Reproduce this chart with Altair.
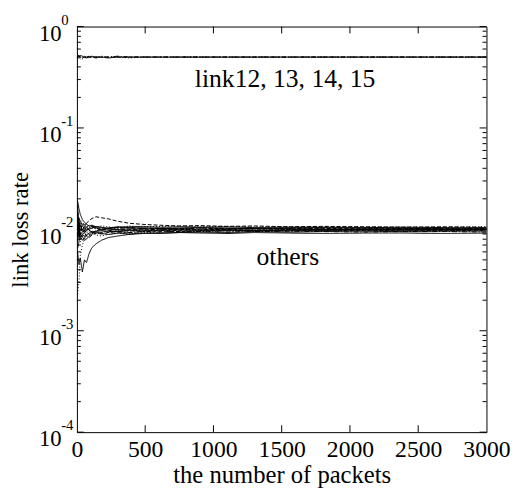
import altair as alt
import pandas as pd

# packet counts at which estimates are shown
X = [5, 15, 25, 40, 55, 70, 90, 110, 140, 180, 230, 300, 380, 480, 600,
     750, 900, 1100, 1300, 1550, 1800, 2100, 2400, 2700, 3000]

# links 12-15 (true loss ~0.5)
top_series = {
    "t1": [0.53, 0.51, 0.50, 0.49, 0.50, 0.51, 0.50, 0.50, 0.49, 0.50, 0.50, 0.50, 0.50,
           0.50, 0.50, 0.50, 0.50, 0.50, 0.50, 0.50, 0.50, 0.50, 0.50, 0.50, 0.50],
    "t2": [0.48, 0.50, 0.52, 0.51, 0.50, 0.49, 0.50, 0.51, 0.50, 0.50, 0.49, 0.50, 0.50,
           0.50, 0.50, 0.50, 0.50, 0.50, 0.50, 0.50, 0.50, 0.50, 0.50, 0.50, 0.50],
    "t3": [0.51, 0.49, 0.48, 0.50, 0.51, 0.50, 0.49, 0.50, 0.50, 0.51, 0.50, 0.50, 0.49,
           0.50, 0.50, 0.50, 0.50, 0.50, 0.50, 0.50, 0.50, 0.50, 0.50, 0.50, 0.50],
    "t4": [0.50, 0.52, 0.50, 0.48, 0.49, 0.50, 0.51, 0.50, 0.50, 0.50, 0.50, 0.51, 0.50,
           0.50, 0.50, 0.50, 0.50, 0.50, 0.50, 0.50, 0.50, 0.50, 0.50, 0.50, 0.50],
}
top_styles = ["dashed", "solid", "dotted", "dashdot"]

# other links (true loss ~0.01)
other_series = {
    "s1": [0.0060, 0.0045, 0.0052, 0.0038, 0.0050, 0.0047, 0.0058, 0.0066, 0.0072, 0.0078, 0.0083, 0.0086,
           0.0089, 0.0091, 0.0092, 0.0093, 0.0094, 0.0093, 0.0095, 0.0094, 0.0095, 0.0096, 0.0095, 0.0096, 0.0096],
    "s2": [0.0023, 0.0030, 0.0055, 0.0070, 0.0080, 0.0085, 0.0088, 0.0090, 0.0092, 0.0094, 0.0095, 0.0097,
           0.0096, 0.0098, 0.0097, 0.0099, 0.0098, 0.0097, 0.0098, 0.0099, 0.0098, 0.0099, 0.0098, 0.0099, 0.0098],
    "s3": [0.0190, 0.0160, 0.0140, 0.0125, 0.0118, 0.0112, 0.0108, 0.0110, 0.0106, 0.0104, 0.0103, 0.0105,
           0.0106, 0.0107, 0.0105, 0.0106, 0.0105, 0.0106, 0.0104, 0.0105, 0.0105, 0.0104, 0.0105, 0.0104, 0.0104],
    "s4": [0.0150, 0.0120, 0.0100, 0.0095, 0.0105, 0.0115, 0.0122, 0.0128, 0.0133, 0.0130, 0.0127, 0.0120,
           0.0115, 0.0112, 0.0110, 0.0108, 0.0109, 0.0107, 0.0108, 0.0106, 0.0107, 0.0106, 0.0105, 0.0106, 0.0105],
    "s5": [0.0100, 0.0130, 0.0115, 0.0090, 0.0085, 0.0092, 0.0098, 0.0094, 0.0090, 0.0093, 0.0096, 0.0094,
           0.0093, 0.0095, 0.0094, 0.0096, 0.0095, 0.0094, 0.0095, 0.0096, 0.0095, 0.0094, 0.0095, 0.0095, 0.0094],
    "s6": [0.0170, 0.0110, 0.0085, 0.0078, 0.0082, 0.0088, 0.0092, 0.0096, 0.0094, 0.0091, 0.0089, 0.0092,
           0.0090, 0.0092, 0.0091, 0.0093, 0.0092, 0.0091, 0.0093, 0.0092, 0.0091, 0.0092, 0.0092, 0.0091, 0.0092],
    "s7": [0.0080, 0.0095, 0.0120, 0.0110, 0.0100, 0.0104, 0.0110, 0.0107, 0.0103, 0.0100, 0.0102, 0.0104,
           0.0104, 0.0102, 0.0103, 0.0102, 0.0103, 0.0101, 0.0102, 0.0103, 0.0102, 0.0101, 0.0102, 0.0101, 0.0102],
    "s8": [0.0120, 0.0090, 0.0075, 0.0085, 0.0095, 0.0100, 0.0097, 0.0093, 0.0088, 0.0086, 0.0089, 0.0091,
           0.0090, 0.0092, 0.0094, 0.0093, 0.0095, 0.0096, 0.0095, 0.0096, 0.0097, 0.0097, 0.0096, 0.0097, 0.0097],
    "s9": [0.0090, 0.0105, 0.0098, 0.0108, 0.0112, 0.0105, 0.0100, 0.0103, 0.0107, 0.0105, 0.0101, 0.0099,
           0.0101, 0.0100, 0.0102, 0.0101, 0.0100, 0.0101, 0.0102, 0.0101, 0.0100, 0.0101, 0.0101, 0.0100, 0.0101],
    "s10": [0.0140, 0.0105, 0.0090, 0.0100, 0.0093, 0.0087, 0.0083, 0.0088, 0.0092, 0.0090, 0.0093, 0.0095,
            0.0093, 0.0095, 0.0096, 0.0095, 0.0097, 0.0098, 0.0097, 0.0098, 0.0098, 0.0099, 0.0098, 0.0099, 0.0099],
    "s11": [0.0110, 0.0085, 0.0095, 0.0115, 0.0108, 0.0098, 0.0102, 0.0106, 0.0101, 0.0098, 0.0100, 0.0102,
            0.0104, 0.0102, 0.0100, 0.0101, 0.0103, 0.0102, 0.0101, 0.0102, 0.0101, 0.0100, 0.0101, 0.0101, 0.0100],
    "s12": [0.0065, 0.0075, 0.0090, 0.0085, 0.0078, 0.0080, 0.0086, 0.0090, 0.0095, 0.0097, 0.0094, 0.0096,
            0.0098, 0.0097, 0.0098, 0.0099, 0.0098, 0.0099, 0.0098, 0.0099, 0.0100, 0.0099, 0.0100, 0.0100, 0.0100],
    "s13": [0.0100, 0.0115, 0.0125, 0.0118, 0.0110, 0.0113, 0.0106, 0.0102, 0.0105, 0.0108, 0.0106, 0.0103,
            0.0108, 0.0106, 0.0107, 0.0108, 0.0106, 0.0107, 0.0106, 0.0106, 0.0105, 0.0106, 0.0105, 0.0105, 0.0106],
    "s14": [0.0085, 0.0100, 0.0088, 0.0092, 0.0098, 0.0094, 0.0089, 0.0092, 0.0097, 0.0100, 0.0098, 0.0100,
            0.0099, 0.0101, 0.0099, 0.0100, 0.0099, 0.0100, 0.0101, 0.0100, 0.0099, 0.0100, 0.0100, 0.0099, 0.0100],
    "s15": [0.0130, 0.0095, 0.0080, 0.0088, 0.0096, 0.0104, 0.0098, 0.0092, 0.0096, 0.0101, 0.0098, 0.0095,
            0.0097, 0.0096, 0.0098, 0.0097, 0.0096, 0.0097, 0.0098, 0.0097, 0.0098, 0.0097, 0.0098, 0.0097, 0.0098],
    "s16": [0.0075, 0.0120, 0.0108, 0.0100, 0.0092, 0.0097, 0.0103, 0.0108, 0.0104, 0.0100, 0.0103, 0.0106,
            0.0103, 0.0104, 0.0102, 0.0103, 0.0104, 0.0103, 0.0102, 0.0103, 0.0104, 0.0103, 0.0103, 0.0102, 0.0103],
}
other_styles = ["solid", "dotted", "solid", "dashed", "dashdot", "solid", "dashed", "dotted",
                "solid", "dashed", "dashdot", "solid", "dotted", "dashed", "dashed", "solid"]

Y_MAJOR = [1e0, 1e-1, 1e-2, 1e-3, 1e-4]
Y_EXP = ["0", "-1", "-2", "-3", "-4"]
Y_MINOR = [k * 10.0 ** n for n in (-4, -3, -2, -1) for k in range(2, 10)]
X_TICKS = [500, 1000, 1500, 2000, 2500]
X_LABELS = [0, 500, 1000, 1500, 2000, 2500, 3000]

ANNOT_TEXT = ["link12, 13, 14, 15", "others"]
ANNOT_X = [1525, 1545]
ANNOT_Y = [0.30, 0.0053]

FONT = "Liberation Serif"

rows = []
for (name, vals), st in zip(top_series.items(), top_styles):
    for x, v in zip(X, vals):
        rows.append({"series": name, "style": st, "n": x, "rate": v})
for (name, vals), st in zip(other_series.items(), other_styles):
    for x, v in zip(X, vals):
        rows.append({"series": name, "style": st, "n": x, "rate": v})
df = pd.DataFrame(rows)

xscale = alt.Scale(domain=[0, 3000], nice=False)
yscale = alt.Scale(type="log", domain=[1e-4, 1], nice=False)

lines = alt.Chart(df).mark_line(color="black", strokeWidth=1, clip=True).encode(
    x=alt.X("n:Q", scale=xscale,
            axis=alt.Axis(values=X_LABELS, format="d", ticks=False, domain=False, grid=False,
                          labelFont=FONT, labelFontSize=24, labelColor="black",
                          labelPadding=6, title="the number of packets",
                          titleFont=FONT, titleFontSize=25, titleFontWeight="normal",
                          titleColor="black", titlePadding=1, labelFlush=False)),
    y=alt.Y("rate:Q", scale=yscale,
            axis=alt.Axis(values=Y_MAJOR, labelExpr="'10'", ticks=False, domain=False,
                          grid=False, labelFont=FONT, labelFontSize=23, labelColor="black",
                          labelPadding=16, labelOffset=7, labelBaseline="middle",
                          title="link loss rate", titleFont=FONT, titleFontSize=23,
                          titleFontWeight="normal", titleColor="black", titlePadding=6)),
    detail="series:N",
    strokeDash=alt.StrokeDash("style:N", legend=None,
                              scale=alt.Scale(domain=["solid", "dashed", "dotted", "dashdot"],
                                              range=[[1, 0], [4, 2], [1, 2], [5, 2, 1, 2]])),
)

exp_df = pd.DataFrame({"v": Y_MAJOR, "t": Y_EXP})
exps = alt.Chart(exp_df).mark_text(align="left", baseline="middle", dy=-7,
                                   font=FONT, fontSize=15, color="black").encode(
    y=alt.Y("v:Q", scale=yscale), x=alt.value(-16), text="t:N")

ymaj = pd.DataFrame({"v": Y_MAJOR})
ymin = pd.DataFrame({"v": Y_MINOR})
xt = pd.DataFrame({"v": X_TICKS})

def yticks(d, length):
    left = alt.Chart(d).mark_rule(color="black", strokeWidth=1).encode(
        y=alt.Y("v:Q", scale=yscale), x=alt.value(0), x2=alt.value(length))
    right = alt.Chart(d).mark_rule(color="black", strokeWidth=1).encode(
        y=alt.Y("v:Q", scale=yscale), x=alt.value(416 - length), x2=alt.value(416))
    return left + right

xtb = alt.Chart(xt).mark_rule(color="black", strokeWidth=1).encode(
    x=alt.X("v:Q", scale=xscale), y=alt.value(412), y2=alt.value(405))
xtt = alt.Chart(xt).mark_rule(color="black", strokeWidth=1).encode(
    x=alt.X("v:Q", scale=xscale), y=alt.value(0), y2=alt.value(7))

ann_df = pd.DataFrame({"x": ANNOT_X, "y": ANNOT_Y, "t": ANNOT_TEXT})
ann = alt.Chart(ann_df).mark_text(font=FONT, fontSize=26, color="black",
                                  align="center", baseline="middle").encode(
    x=alt.X("x:Q", scale=xscale), y=alt.Y("y:Q", scale=yscale), text="t:N")

chart = alt.layer(lines, yticks(ymaj, 7), yticks(ymin, 4), xtb, xtt, exps, ann).properties(
    width=416, height=412,
    autosize=alt.AutoSizeParams(type="none"),
    padding={"left": 70, "top": 15, "right": 30, "bottom": 60},
    background="white",
).configure(font=FONT).configure_view(stroke="black", strokeWidth=1)

chart.save("out.html", embed_options={"renderer": "svg", "actions": False})
